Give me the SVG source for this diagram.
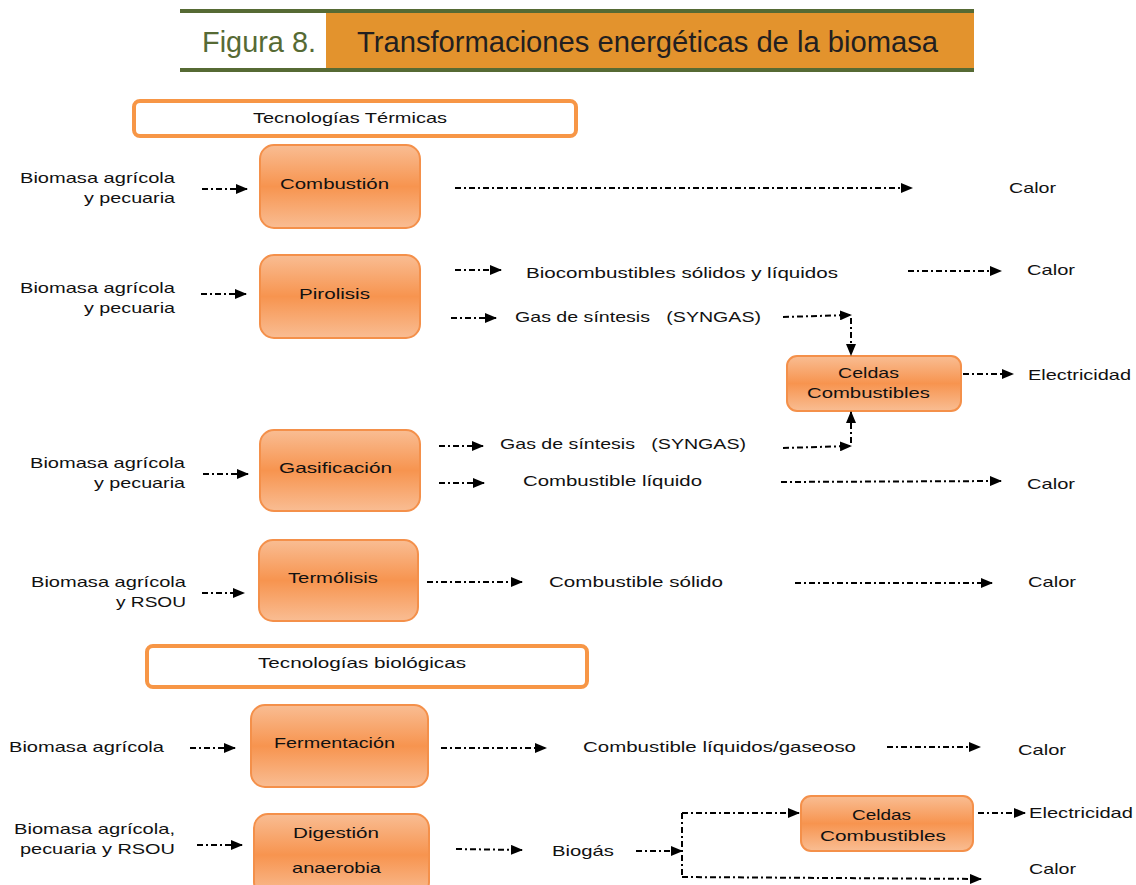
<svg xmlns="http://www.w3.org/2000/svg" width="1136" height="885" viewBox="0 0 1136 885">
<style>
.t{font-family:"Liberation Sans",Arial,sans-serif;font-size:15px;fill:#111}
.node{fill:url(#g);stroke:#f4904a;stroke-width:2}
.hdr{fill:#fff;stroke:#f79646;stroke-width:4}
.c{fill:none;stroke:#000;stroke-width:2;stroke-dasharray:6 3 2 3}
.ca{fill:none;stroke:#000;stroke-width:2;stroke-dasharray:6 3 2 3;marker-end:url(#ah)}
</style>
<defs>
<linearGradient id="g" x1="0" y1="0" x2="0" y2="1">
<stop offset="0" stop-color="#f9bd93"/>
<stop offset="0.5" stop-color="#f7944f"/>
<stop offset="1" stop-color="#f9bd93"/>
</linearGradient>
<marker id="ah" markerUnits="userSpaceOnUse" markerWidth="12" markerHeight="10" refX="11" refY="5" orient="auto">
<path d="M0,0 L12,5 L0,10 z" fill="#000"/>
</marker>
</defs>
<rect width="1136" height="885" fill="#fff"/>
<g id="title">
<rect x="326" y="13" width="648" height="56" fill="#e3932d"/>
<line x1="180" y1="11" x2="974" y2="11" stroke="#566a34" stroke-width="4"/>
<line x1="180" y1="70" x2="974" y2="70" stroke="#566a34" stroke-width="4"/>
<text x="202" y="52" font-family="Liberation Sans,Arial,sans-serif" font-size="30" fill="#566a34" textLength="114" lengthAdjust="spacingAndGlyphs">Figura 8.</text>
<text x="357" y="52" font-family="Liberation Sans,Arial,sans-serif" font-size="30" fill="#231f20" textLength="581" lengthAdjust="spacingAndGlyphs">Transformaciones energéticas de la biomasa</text>
</g>
<g id="hdr-termicas">
<rect class="hdr" x="134" y="101" width="442" height="35" rx="6"/>
<text class="t" x="253" y="123" textLength="194" lengthAdjust="spacingAndGlyphs">Tecnologías Térmicas</text>
</g>
<g id="hdr-biologicas">
<rect class="hdr" x="147" y="646" width="440" height="41" rx="6"/>
<text class="t" x="258" y="668" textLength="208" lengthAdjust="spacingAndGlyphs">Tecnologías biológicas</text>
</g>
<g id="combustion">
<rect class="node" x="260" y="145" width="160" height="83" rx="14"/>
<text class="t" x="280" y="189" textLength="109" lengthAdjust="spacingAndGlyphs">Combustión</text>
</g>
<g id="pirolisis">
<rect class="node" x="260" y="255" width="160" height="83" rx="14"/>
<text class="t" x="299" y="299" textLength="71" lengthAdjust="spacingAndGlyphs">Pirolisis</text>
</g>
<g id="gasificacion">
<rect class="node" x="260" y="430" width="160" height="81" rx="14"/>
<text class="t" x="279" y="473" textLength="113" lengthAdjust="spacingAndGlyphs">Gasificación</text>
</g>
<g id="termolisis">
<rect class="node" x="259" y="540" width="159" height="81" rx="14"/>
<text class="t" x="288" y="583" textLength="90" lengthAdjust="spacingAndGlyphs">Termólisis</text>
</g>
<g id="fermentacion">
<rect class="node" x="251" y="705" width="177" height="82" rx="14"/>
<text class="t" x="274" y="748" textLength="121" lengthAdjust="spacingAndGlyphs">Fermentación</text>
</g>
<g id="digestion">
<rect class="node" x="254" y="814" width="175" height="82" rx="14"/>
<text class="t" x="293" y="838" textLength="86" lengthAdjust="spacingAndGlyphs">Digestión</text>
<text class="t" x="292" y="873" textLength="89" lengthAdjust="spacingAndGlyphs">anaerobia</text>
</g>
<g id="celdas1">
<rect class="node" x="787" y="356" width="174" height="55" rx="10"/>
<text class="t" x="838" y="378" textLength="61" lengthAdjust="spacingAndGlyphs">Celdas</text>
<text class="t" x="807" y="398" textLength="123" lengthAdjust="spacingAndGlyphs">Combustibles</text>
</g>
<g id="celdas2">
<rect class="node" x="801" y="796" width="172" height="55" rx="10"/>
<text class="t" x="852" y="820" textLength="59" lengthAdjust="spacingAndGlyphs">Celdas</text>
<text class="t" x="820" y="841" textLength="126" lengthAdjust="spacingAndGlyphs">Combustibles</text>
</g>
<g id="labels">
<text class="t" x="20" y="183" textLength="155" lengthAdjust="spacingAndGlyphs">Biomasa agrícola</text>
<text class="t" x="84" y="203" textLength="91" lengthAdjust="spacingAndGlyphs">y pecuaria</text>
<text class="t" x="1009" y="193" textLength="47" lengthAdjust="spacingAndGlyphs">Calor</text>
<text class="t" x="20" y="293" textLength="155" lengthAdjust="spacingAndGlyphs">Biomasa agrícola</text>
<text class="t" x="84" y="313" textLength="91" lengthAdjust="spacingAndGlyphs">y pecuaria</text>
<text class="t" x="526" y="278" textLength="312" lengthAdjust="spacingAndGlyphs">Biocombustibles sólidos y líquidos</text>
<text class="t" x="1027" y="275" textLength="48" lengthAdjust="spacingAndGlyphs">Calor</text>
<text class="t" x="515" y="322" textLength="246" lengthAdjust="spacingAndGlyphs">Gas de síntesis&#160;&#160; (SYNGAS)</text>
<text class="t" x="1028" y="380" textLength="103" lengthAdjust="spacingAndGlyphs">Electricidad</text>
<text class="t" x="500" y="449" textLength="246" lengthAdjust="spacingAndGlyphs">Gas de síntesis&#160;&#160; (SYNGAS)</text>
<text class="t" x="30" y="468" textLength="155" lengthAdjust="spacingAndGlyphs">Biomasa agrícola</text>
<text class="t" x="94" y="488" textLength="91" lengthAdjust="spacingAndGlyphs">y pecuaria</text>
<text class="t" x="523" y="486" textLength="179" lengthAdjust="spacingAndGlyphs">Combustible líquido</text>
<text class="t" x="1027" y="489" textLength="48" lengthAdjust="spacingAndGlyphs">Calor</text>
<text class="t" x="31" y="587" textLength="155" lengthAdjust="spacingAndGlyphs">Biomasa agrícola</text>
<text class="t" x="116" y="607" textLength="70" lengthAdjust="spacingAndGlyphs">y RSOU</text>
<text class="t" x="549" y="587" textLength="174" lengthAdjust="spacingAndGlyphs">Combustible sólido</text>
<text class="t" x="1028" y="587" textLength="48" lengthAdjust="spacingAndGlyphs">Calor</text>
<text class="t" x="9" y="752" textLength="155" lengthAdjust="spacingAndGlyphs">Biomasa agrícola</text>
<text class="t" x="583" y="752" textLength="273" lengthAdjust="spacingAndGlyphs">Combustible líquidos/gaseoso</text>
<text class="t" x="1018" y="755" textLength="48" lengthAdjust="spacingAndGlyphs">Calor</text>
<text class="t" x="14" y="834" textLength="161" lengthAdjust="spacingAndGlyphs">Biomasa agrícola,</text>
<text class="t" x="20" y="854" textLength="155" lengthAdjust="spacingAndGlyphs">pecuaria y RSOU</text>
<text class="t" x="552" y="856" textLength="62" lengthAdjust="spacingAndGlyphs">Biogás</text>
<text class="t" x="1029" y="818" textLength="104" lengthAdjust="spacingAndGlyphs">Electricidad</text>
<text class="t" x="1029" y="874" textLength="47" lengthAdjust="spacingAndGlyphs">Calor</text>
</g>
<g id="connectors">
<path class="ca" d="M202,189 H247"/>
<path class="ca" d="M455,188 H912"/>
<path class="ca" d="M201,294 H246"/>
<path class="ca" d="M455,270 H501"/>
<path class="ca" d="M908,271 H1001"/>
<path class="ca" d="M451,318 H496"/>
<path class="ca" d="M783,317 L851,315"/>
<path class="ca" d="M851,318 V355"/>
<path class="ca" d="M963,374 H1013"/>
<path class="ca" d="M203,474 H248"/>
<path class="ca" d="M439,446 H483"/>
<path class="ca" d="M783,448 L851,446"/>
<path class="ca" d="M851,443 V412"/>
<path class="ca" d="M439,483 H484"/>
<path class="ca" d="M781,482 L1001,481"/>
<path class="ca" d="M202,593 H244"/>
<path class="ca" d="M427,582 H522"/>
<path class="ca" d="M795,583 H992"/>
<path class="ca" d="M190,748 H235"/>
<path class="ca" d="M441,748 H546"/>
<path class="ca" d="M887,747 H980"/>
<path class="ca" d="M197,845 H242"/>
<path class="ca" d="M456,849 L522,850"/>
<path class="ca" d="M636,851 H682"/>
<path class="c" d="M682,813 V877"/>
<path class="ca" d="M682,813 H799"/>
<path class="ca" d="M682,877 L981,879"/>
<path class="ca" d="M978,813 H1025"/>
</g>
</svg>
